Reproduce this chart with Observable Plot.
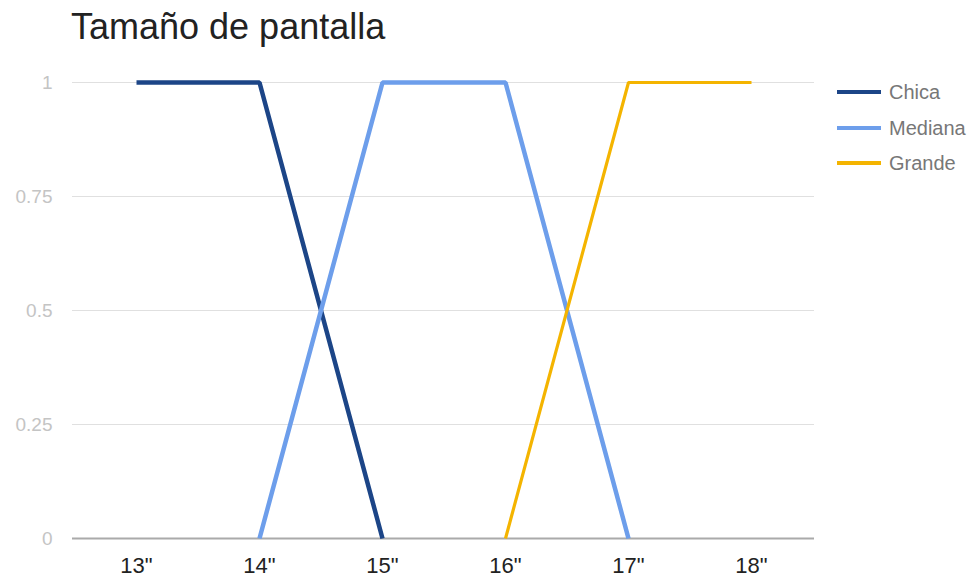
<!DOCTYPE html>
<html>
<head>
<meta charset="utf-8">
<script src="https://cdn.jsdelivr.net/npm/d3@7"></script>
<script src="https://cdn.jsdelivr.net/npm/@observablehq/plot@0.6"></script>
<style>
  html, body { margin: 0; padding: 0; background: #fff; }
  #wrap { position: relative; width: 978px; height: 581px; font-family: "Liberation Sans", Arial, sans-serif; }
  #title { position: absolute; left: 71px; top: 6px; font-size: 36px; color: #222; white-space: nowrap; }
  #legend { position: absolute; left: 837px; top: 0; }
  .item { position: absolute; left: 0; display: flex; align-items: center; white-space: nowrap; }
  .swatch { width: 44px; margin-right: 8px; }
  .lbl { font-size: 20px; color: #777; }
  #chart { position: absolute; left: 0; top: 0; }
</style>
</head>
<body>
<div id="wrap">
  <div id="chart"></div>
  <div id="title">Tamaño de pantalla</div>
  <div id="legend"></div>
</div>
<script>
const sizes = ['13"', '14"', '15"', '16"', '17"', '18"'];
const seriesNames = ["Chica", "Mediana", "Grande"];
const chica   = [1, 1, 0, null, null, null];
const mediana = [null, 0, 1, 1, 0, null];
const grande  = [null, null, null, 0, 1, 1];
const colors = ["#1c4587", "#6d9eeb", "#f4b400"];
const widths = [4.5, 4.5, 3.2];
const yTicks = [0, 0.25, 0.5, 0.75, 1];

const valuesBySeries = [chica, mediana, grande];
const data = [];
seriesNames.forEach((name, si) => {
  sizes.forEach((s, i) => {
    data.push({series: name, size: s, value: valuesBySeries[si][i]});
  });
});

const lineMarks = seriesNames.map((name, si) =>
  Plot.line(data.filter(d => d.series === name), {
    x: "size", y: "value",
    stroke: colors[si], strokeWidth: widths[si],
    strokeLinejoin: "miter", strokeLinecap: "butt"
  })
);

const chart = Plot.plot({
  width: 978,
  height: 581,
  marginLeft: 72,
  marginRight: 164,
  marginTop: 82,
  marginBottom: 43,
  style: { fontFamily: "'Liberation Sans', Arial, sans-serif", background: "transparent" },
  x: { type: "point", domain: sizes, padding: 0.5, label: null },
  y: { domain: [0, 1], label: null },
  marks: [
    Plot.ruleY(yTicks.filter(t => t !== 0), { stroke: "#e0e0e0", strokeWidth: 1.2 }),
    Plot.axisY({ ticks: yTicks, tickSize: 0, tickPadding: 20, fontSize: 19, fill: "#c4c4c4", tickFormat: d => String(d), label: null }),
    Plot.axisX({ tickSize: 0, tickPadding: 19, fontSize: 22, fill: "#222", label: null }),
    Plot.ruleY([0], { stroke: "#aaa", strokeWidth: 2 }),
    ...lineMarks
  ]
});
document.getElementById("chart").appendChild(chart);

const legend = document.getElementById("legend");
const legendTops = [92, 128, 163];
seriesNames.forEach((name, si) => {
  const item = document.createElement("div");
  item.className = "item";
  item.style.top = (legendTops[si] - 12) + "px";
  item.style.height = "24px";
  const sw = document.createElement("div");
  sw.className = "swatch";
  sw.style.height = widths[si] + "px";
  sw.style.background = colors[si];
  const lb = document.createElement("span");
  lb.className = "lbl";
  lb.textContent = name;
  item.appendChild(sw);
  item.appendChild(lb);
  legend.appendChild(item);
});
</script>
</body>
</html>
